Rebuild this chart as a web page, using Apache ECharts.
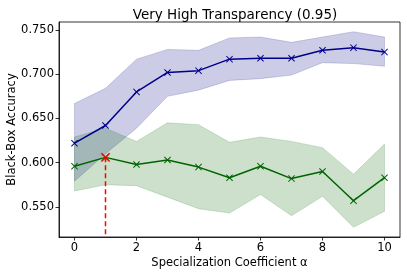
<!DOCTYPE html>
<html>
<head>
<meta charset="utf-8">
<script src="https://cdn.jsdelivr.net/npm/echarts@6/dist/echarts.min.js"></script>
<style>
html,body{margin:0;padding:0;background:#fff;}
#chart{width:407px;height:277px;}
</style>
</head>
<body>
<div id="chart"></div>
<script>
const alphas = [0,1,2,3,4,5,6,7,8,9,10];
const blueMean  = [0.622,0.642,0.680,0.702,0.704,0.717,0.718,0.718,0.727,0.730,0.725];
const blueUpper = [0.667,0.684,0.717,0.728,0.727,0.741,0.742,0.736,0.742,0.748,0.742];
const blueLower = [0.579,0.610,0.639,0.675,0.682,0.693,0.695,0.699,0.713,0.712,0.709];
const greenMean  = [0.596,0.606,0.598,0.603,0.595,0.583,0.596,0.582,0.590,0.557,0.583];
const greenUpper = [0.629,0.639,0.624,0.645,0.643,0.623,0.629,0.624,0.617,0.587,0.621];
const greenLower = [0.568,0.575,0.574,0.561,0.548,0.543,0.564,0.540,0.562,0.527,0.545];
const bestAlpha = 1;
const yTicks = [0.55,0.60,0.65,0.70,0.75];
const xTicks = [0,2,4,6,8,10];

const X_SYM = 'path://M0,1L1,0L5,4L9,0L10,1L6,5L10,9L9,10L5,6L1,10L0,9L4,5Z';
const FONT = 'DejaVu Sans';

function bandSeries(upper, lower, color) {
  return {
    type: 'custom',
    silent: true,
    z: 1,
    data: [0],
    renderItem: function (params, api) {
      const pts = [];
      for (let i = 0; i < alphas.length; i++) pts.push(api.coord([alphas[i], upper[i]]));
      for (let i = alphas.length - 1; i >= 0; i--) pts.push(api.coord([alphas[i], lower[i]]));
      return { type: 'polygon', shape: { points: pts }, style: { fill: color, stroke: color, lineWidth: 0.8 } };
    }
  };
}

const chart = echarts.init(document.getElementById('chart'), null, {renderer: 'canvas'});
const bestIdx = alphas.indexOf(bestAlpha);
const yMin = 0.516, yMax = 0.759;

chart.setOption({
  animation: false,
  backgroundColor: '#fff',
  title: {
    text: 'Very High Transparency (0.95)',
    left: 230, top: 3, textAlign: 'center',
    textStyle: { fontFamily: FONT, fontSize: 13.5, fontWeight: 'normal', color: '#000' }
  },
  grid: { left: 59, right: 7, top: 22, bottom: 40, containLabel: false, outerBoundsMode: 'none',
    show: true, borderColor: '#000', borderWidth: 0.8, backgroundColor: 'transparent' },
  xAxis: {
    type: 'value', min: -0.5, max: 10.5,
    name: 'Specialization Coefficient \u03b1', nameLocation: 'middle', nameGap: 20, nameMoveOverlap: false,
    nameTextStyle: { fontFamily: FONT, fontSize: 11.5, color: '#000' },
    axisLine: { show: true, onZero: false, lineStyle: { color: '#000', width: 0.8 } },
    axisTick: { show: true, length: 3.5, lineStyle: { color: '#000', width: 0.8 }, customValues: xTicks },
    axisLabel: { fontFamily: FONT, fontSize: 11.5, color: '#000', margin: 5, customValues: xTicks },
    splitLine: { show: false }
  },
  yAxis: {
    type: 'value', min: yMin, max: yMax,
    name: 'Black-Box Accuracy', nameLocation: 'middle', nameGap: 41, nameMoveOverlap: false,
    nameTextStyle: { fontFamily: FONT, fontSize: 11.5, color: '#000' },
    axisLine: { show: true, onZero: false, lineStyle: { color: '#000', width: 0.8 } },
    axisTick: { show: true, length: 3.5, lineStyle: { color: '#000', width: 0.8 }, customValues: yTicks },
    axisLabel: { fontFamily: FONT, fontSize: 11.5, color: '#000', margin: 5, customValues: yTicks,
      formatter: v => v.toFixed(3) },
    splitLine: { show: false }
  },
  series: [
    bandSeries(blueUpper, blueLower, 'rgba(0,0,128,0.2)'),
    bandSeries(greenUpper, greenLower, 'rgba(0,100,0,0.2)'),
    {
      type: 'line', z: 3,
      data: alphas.map((a, i) => [a, blueMean[i]]),
      lineStyle: { color: '#00008b', width: 1.5 },
      symbol: X_SYM, symbolSize: 7,
      itemStyle: { color: '#00008b' }
    },
    {
      type: 'line', z: 3,
      data: alphas.map((a, i) => [a, greenMean[i]]),
      lineStyle: { color: '#006400', width: 1.5 },
      symbol: X_SYM, symbolSize: 7,
      itemStyle: { color: '#006400' }
    },
    {
      type: 'line', z: 4,
      data: [[bestAlpha, greenMean[bestIdx]], [bestAlpha, yMin]],
      lineStyle: { color: '#ff0000', width: 1.5, type: [5, 3] },
      symbol: 'none'
    },
    {
      type: 'scatter', z: 5,
      data: [[bestAlpha, greenMean[bestIdx]]],
      symbol: X_SYM, symbolSize: 9,
      itemStyle: { color: '#ff0000', borderColor: '#ff0000', borderWidth: 0.6 }
    }
  ]
});
</script>
</body>
</html>
